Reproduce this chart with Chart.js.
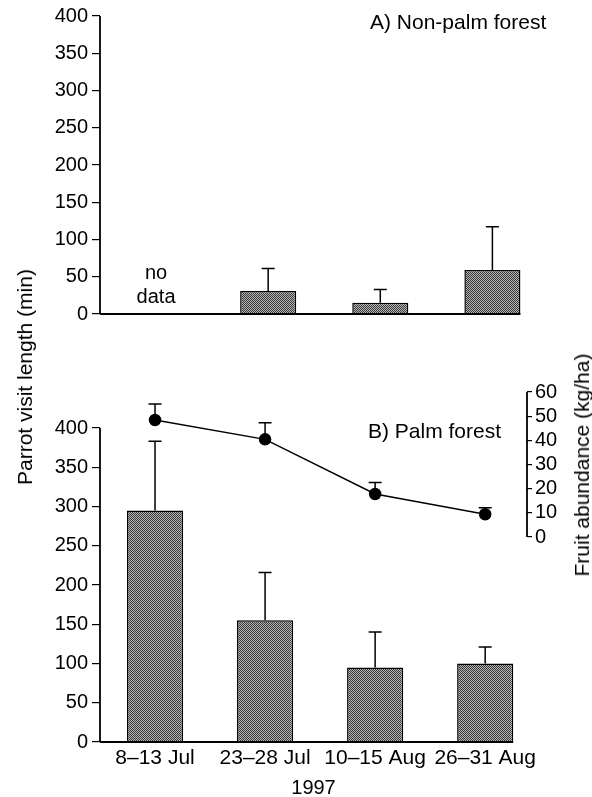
<!DOCTYPE html>
<html>
<head>
<meta charset="utf-8">
<script src="https://cdn.jsdelivr.net/npm/chart.js@4.4.1/dist/chart.umd.min.js"></script>
<style>
  body { margin: 0; background: #fff; }
  #wrap { position: relative; width: 592px; height: 797px; font-family: 'Liberation Sans', Arial, sans-serif; color: #000; }
  .panel { position: absolute; left: 0; width: 592px; }
  #top { top: 0; height: 340px; }
  #bottom { top: 340px; height: 457px; }
  .ytitle { position: absolute; font-size: 21px; white-space: nowrap; transform: translate(-50%, -50%) rotate(-90deg); }
</style>
</head>
<body>
<div id="wrap">
  <div class="panel" id="top"><canvas id="chartA"></canvas></div>
  <div class="panel" id="bottom"><canvas id="chartB"></canvas></div>
  <div class="ytitle" style="left:25px; top:377px;">Parrot visit length (min)</div>
  <div class="ytitle" style="left:582px; top:465px;">Fruit abundance (kg/ha)</div>
</div>
<script>
// sampling periods, 1997
const periods = ['8–13 Jul', '23–28 Jul', '10–15 Aug', '26–31 Aug'];

// A) non-palm forest: mean visit length (min) and upper SE
const nonPalmVisit = [null, 31, 15, 59];
const nonPalmErr = [null, 30, 18, 58];

// B) palm forest
const palmVisit = [295, 155, 95, 100];
const palmErr = [88, 61, 45, 21];
const fruitAbundance = [48.4, 40.4, 17.8, 9.4];
const fruitErr = [6.6, 6.9, 4.7, 2.7];

const visitTicks = [0, 50, 100, 150, 200, 250, 300, 350, 400];
const fruitTicks = [0, 10, 20, 30, 40, 50, 60];

Chart.defaults.font.family = "'Liberation Sans', Arial, sans-serif";
Chart.defaults.font.size = 20;
Chart.defaults.color = '#000';

// grey stippled fill like the printed bars
function stipple() {
    const c = document.createElement('canvas');
    c.width = 2; c.height = 2;
    const g = c.getContext('2d');
    g.fillStyle = '#b4b4b4';
    g.fillRect(0, 0, 2, 2);
    g.fillStyle = '#3a3a3a';
    g.fillRect(0, 0, 1, 1);
    g.fillRect(1, 1, 1, 1);
    return g.createPattern(c, 'repeat');
}
const fill = stipple();

// upward-only error bars
const errorBars = {
    id: 'errorBars',
    afterDatasetsDraw(chart) {
        const ctx = chart.ctx;
        chart.data.datasets.forEach((ds, di) => {
            if (!ds.errors) return;
            const meta = chart.getDatasetMeta(di);
            const ys = chart.scales[meta.yAxisID];
            meta.data.forEach((el, i) => {
                const v = ds.data[i].y, e = ds.errors[i];
                if (v == null || e == null) return;
                const y0 = ys.getPixelForValue(v), y1 = ys.getPixelForValue(v + e);
                ctx.save();
                ctx.strokeStyle = '#000';
                ctx.lineWidth = 1.5;
                ctx.beginPath();
                ctx.moveTo(el.x, y0);
                ctx.lineTo(el.x, y1);
                ctx.moveTo(el.x - 6.5, y1);
                ctx.lineTo(el.x + 6.5, y1);
                ctx.stroke();
                ctx.restore();
            });
        });
    }
};

// axis lines that stop at the last bar / the labelled range
const axisLines = {
    id: 'axisLines',
    afterDatasetsDraw(chart) {
        const ctx = chart.ctx, a = chart.chartArea, y = chart.scales.y;
        const bars = chart.getDatasetMeta(chart.data.datasets.length - 1).data;
        const last = bars[bars.length - 1];
        const base = y.getPixelForValue(0);
        ctx.save();
        ctx.strokeStyle = '#000';
        ctx.lineWidth = 1.8;
        ctx.beginPath();
        ctx.moveTo(a.left, base);
        ctx.lineTo(last.x + last.width / 2, base);
        ctx.moveTo(a.left, base);
        ctx.lineTo(a.left, y.getPixelForValue(visitTicks[visitTicks.length - 1]));
        const y1 = chart.scales.y1;
        if (y1) {
            ctx.moveTo(y1.left, y1.getPixelForValue(fruitTicks[0]));
            ctx.lineTo(y1.left, y1.getPixelForValue(fruitTicks[fruitTicks.length - 1]));
        }
        ctx.stroke();
        ctx.restore();
    }
};

const panelLabel = {
    id: 'panelLabel',
    afterDraw(chart, args, opts) {
        const ctx = chart.ctx;
        ctx.save();
        ctx.font = "21px 'Liberation Sans', Arial, sans-serif";
        ctx.fillStyle = '#000';
        ctx.textBaseline = 'middle';
        ctx.fillText(opts.text, opts.x, opts.y);
        if (opts.note) {
            const x = chart.scales.x.getPixelForValue(0);
            const base = chart.scales.y.getPixelForValue(0);
            ctx.font = "20px 'Liberation Sans', Arial, sans-serif";
            ctx.textAlign = 'center';
            ctx.fillText(opts.note[0], x, base - 41);
            ctx.fillText(opts.note[1], x, base - 17);
        }
        ctx.restore();
    }
};

const yVisit = (extra) => Object.assign({
    afterFit: s => { s.width = 100; },
    afterBuildTicks: s => { s.ticks = visitTicks.map(v => ({ value: v })); },
    border: { display: false },
    grid: { drawOnChartArea: false, tickLength: 8, color: '#000', lineWidth: 1.2 },
    ticks: { padding: 4 }
}, extra);

const periodTicks = s => { s.ticks = periods.map((p, i) => ({ value: i })); };

new Chart(document.getElementById('chartA'), {
    type: 'bar',
    data: {
        datasets: [{
            data: periods.map((p, i) => ({ x: i, y: nonPalmVisit[i] })),
            errors: nonPalmErr,
            backgroundColor: fill,
            borderColor: '#000',
            borderWidth: 1.5,
            barPercentage: 0.5,
            categoryPercentage: 1
        }]
    },
    options: {
        responsive: true,
        maintainAspectRatio: false,
        animation: false,
        layout: { padding: { left: 0, right: 57, top: 15, bottom: 26 } },
        plugins: {
            legend: { display: false },
            tooltip: { enabled: false },
            panelLabel: { text: 'A) Non-palm forest', x: 370, y: 23, note: ['no', 'data'] }
        },
        scales: {
            x: {
                type: 'linear', display: false, offset: false, grid: { offset: false },
                min: -0.5, max: 3.38, afterBuildTicks: periodTicks
            },
            y: yVisit({ min: 0, max: 400 })
        }
    },
    plugins: [errorBars, axisLines, panelLabel]
});

new Chart(document.getElementById('chartB'), {
    type: 'bar',
    data: {
        datasets: [{
            type: 'line',
            data: periods.map((p, i) => ({ x: i, y: fruitAbundance[i] })),
            errors: fruitErr,
            yAxisID: 'y1',
            order: 0,
            borderColor: '#000',
            borderWidth: 1.5,
            pointRadius: 5.5,
            pointBackgroundColor: '#000',
            pointBorderColor: '#000'
        }, {
            data: periods.map((p, i) => ({ x: i, y: palmVisit[i] })),
            errors: palmErr,
            yAxisID: 'y',
            order: 1,
            backgroundColor: fill,
            borderColor: '#000',
            borderWidth: 1.5,
            barPercentage: 0.51,
            categoryPercentage: 1
        }]
    },
    options: {
        responsive: true,
        maintainAspectRatio: false,
        animation: false,
        layout: { padding: { left: 0, right: 0, top: 52, bottom: 0 } },
        plugins: {
            legend: { display: false },
            tooltip: { enabled: false },
            panelLabel: { text: 'B) Palm forest', x: 368, y: 92 }
        },
        scales: {
            x: {
                type: 'linear',
                offset: false,
                min: -0.5,
                max: 3.38,
                afterFit: s => { s.height = 55; },
                afterBuildTicks: periodTicks,
                border: { display: false },
                grid: { display: false, drawTicks: false, offset: false },
                ticks: { padding: 4, maxRotation: 0, autoSkip: false, font: { size: 21 }, callback: v => periods[v] },
                title: { display: true, text: '1997', padding: { top: 0, bottom: -3 } }
            },
            y: yVisit({ min: 0, max: 445.9 }),
            y1: {
                position: 'right',
                min: -84.83,
                max: 60,
                afterFit: s => { s.width = 65; },
                afterBuildTicks: s => { s.ticks = fruitTicks.map(v => ({ value: v })); },
                border: { display: false },
                grid: { drawOnChartArea: false, tickLength: 5, color: '#000', lineWidth: 1.2 },
                ticks: { padding: 3 }
            }
        }
    },
    plugins: [errorBars, axisLines, panelLabel]
});
</script>
</body>
</html>
